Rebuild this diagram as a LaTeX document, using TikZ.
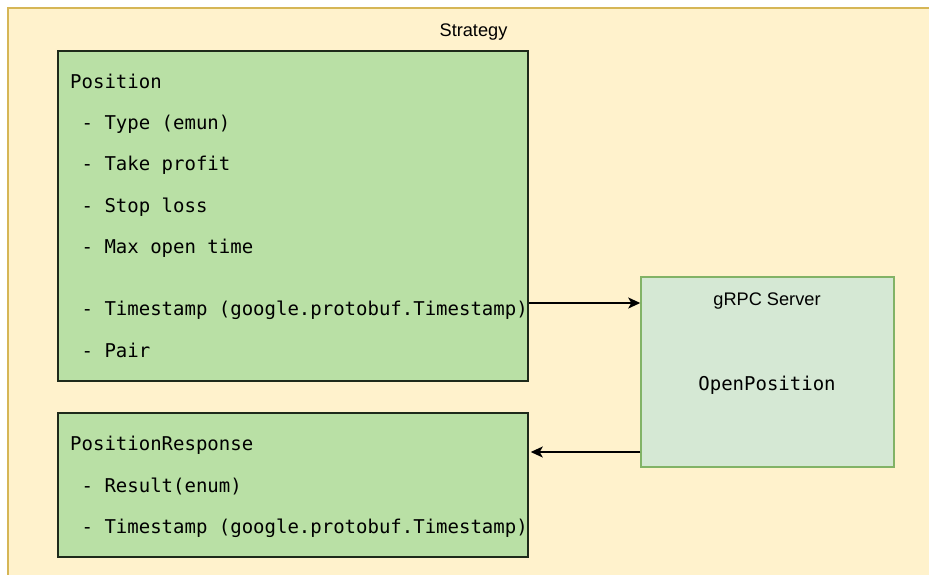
\documentclass[tikz,border=0pt]{standalone}
\usepackage{fontspec}
\setmainfont{Liberation Sans}
\newfontfamily\codefont{DejaVu Sans Mono}
\usetikzlibrary{arrows.meta}

\definecolor{containerfill}{HTML}{FFF2CC}
\definecolor{containerline}{HTML}{D6B656}
\definecolor{msgfill}{HTML}{B9E0A5}
\definecolor{msgline}{HTML}{1E2A1A}
\definecolor{srvfill}{HTML}{D5E8D4}
\definecolor{srvline}{HTML}{82B366}

\tikzset{
  container/.style={draw=containerline, fill=containerfill, line width=1.5pt},
  msgbox/.style={draw=msgline, fill=msgfill, line width=1.5pt, rectangle, inner sep=0pt},
  srvbox/.style={draw=srvline, fill=srvfill, line width=1.5pt, rectangle, inner sep=0pt},
  codeline/.style={anchor=base west, inner sep=0pt, font=\codefont\fontsize{19pt}{22pt}\selectfont},
  codecenter/.style={anchor=base, inner sep=0pt, font=\codefont\fontsize{19pt}{22pt}\selectfont},
  title/.style={anchor=base, inner sep=0pt, font=\fontsize{18.2pt}{21pt}\selectfont},
  flow/.style={line width=1.5pt, -{Stealth[length=12pt, width=11pt, inset=3pt]}},
}

\begin{document}
\begin{tikzpicture}[x=1pt, y=-1pt]
  \useasboundingbox (0,0) rectangle (929,574);
  \fill[white] (0,0) rectangle (929,574);
  \clip (0,0) rectangle (929,574);

  % Strategy container (runs past the right and bottom edges)
  \draw[container] (8,8) rectangle (945,590);
  \node[title] (strategy) at (473.5,36) {Strategy};

  % Position message
  \path[msgbox] (58,51) coordinate (posnw) rectangle (528,381) coordinate (posse);
  \node[msgbox, draw=none, fill=none, minimum width=470pt, minimum height=330pt] (position) at (293,216) {};
  \node[codeline] (pos0) at (70,88) {Position};
  \node[codeline] (pos1) at (70,129) {\ - Type (emun)};
  \node[codeline] (pos2) at (70,170) {\ - Take profit};
  \node[codeline] (pos3) at (70,212) {\ - Stop loss};
  \node[codeline] (pos4) at (70,253) {\ - Max open time};
  \node[codeline] (pos5) at (70,315) {\ - Timestamp (google.protobuf.Timestamp)};
  \node[codeline] (pos6) at (70,357) {\ - Pair};

  % PositionResponse message
  \path[msgbox] (58,413) rectangle (528,557);
  \node[msgbox, draw=none, fill=none, minimum width=470pt, minimum height=144pt] (response) at (293,485) {};
  \node[codeline] (resp0) at (70,450) {PositionResponse};
  \node[codeline] (resp1) at (70,492) {\ - Result(enum)};
  \node[codeline] (resp2) at (70,533) {\ - Timestamp (google.protobuf.Timestamp)};

  % gRPC server
  \node[srvbox, minimum width=253pt, minimum height=190pt] (server) at (767.5,372) {};
  \node[title] (srvtitle) at (767,305) {gRPC Server};
  \node[codecenter] (openpos) at (767,390) {OpenPosition};

  % Calls
  \draw[flow] (position.east |- 0,303) -- (server.west |- 0,303);
  \draw[flow] (server.west |- 0,452) -- ([xshift=2pt]response.east |- 0,452);
\end{tikzpicture}
\end{document}
